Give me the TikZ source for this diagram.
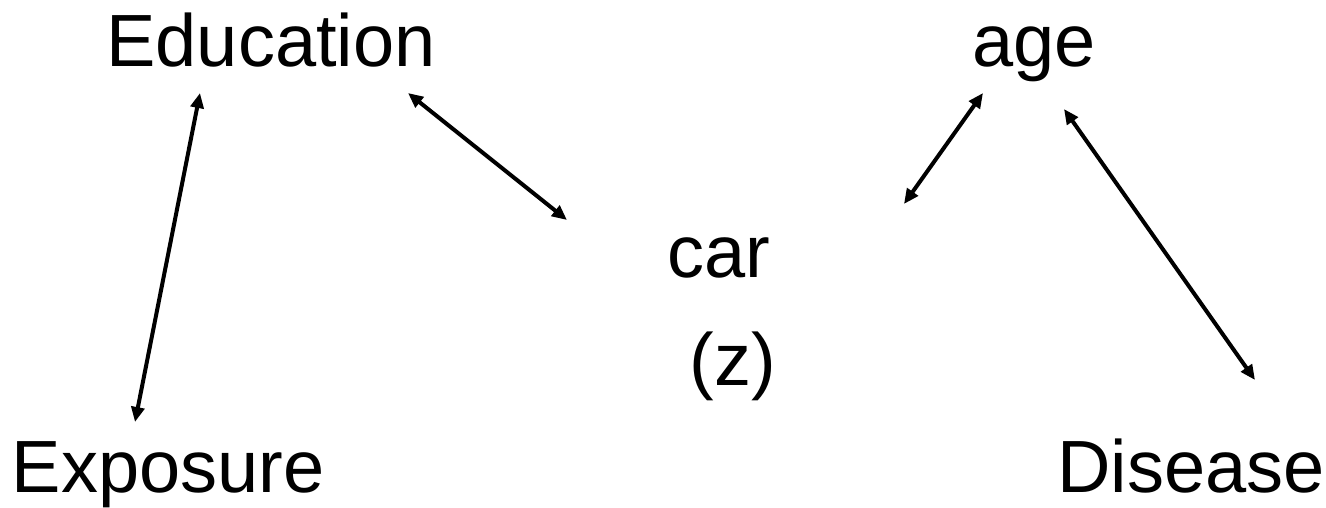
\documentclass[tikz,border=0pt]{standalone}
\usepackage{fontspec}
\setmainfont{Liberation Sans}
\usetikzlibrary{arrows.meta,calc}

\newcommand{\labelfont}{\fontsize{74}{88}\selectfont}

\begin{document}
\begin{tikzpicture}[x=1pt,y=-1pt,
    lbl/.style={font=\labelfont,inner sep=0pt,anchor=base},
    biarrow/.style={{Triangle[length=15pt,width=13pt]}-{Triangle[length=15pt,width=13pt]},line width=4pt}]
    \useasboundingbox (0,0) rectangle (1326,508);

    % variables
    \node[lbl] (edu) at (271,67) {Education};
    \node[lbl] (age) at (1034,67) {age};
    \node[lbl] (car) at (719,277) {car};
    \node[lbl] (z) at (733,385) {(z)};
    \node[lbl] (expo) at (168,492) {Exposure};
    \node[lbl] (dis) at (1191,492) {Disease};

    % associations
    \draw[biarrow] ($(edu.base)+(-71,26)$) -- ($(expo.base)+(-33,-70)$);
    \draw[biarrow] ($(edu.base)+(137,26)$) -- ($(car.base)+(-152,-57)$);
    \draw[biarrow] ($(age.base)+(-51,26)$) -- ($(car.base)+(185,-73)$);
    \draw[biarrow] ($(age.base)+(30,42)$) -- ($(dis.base)+(64,-112)$);
\end{tikzpicture}
\end{document}
